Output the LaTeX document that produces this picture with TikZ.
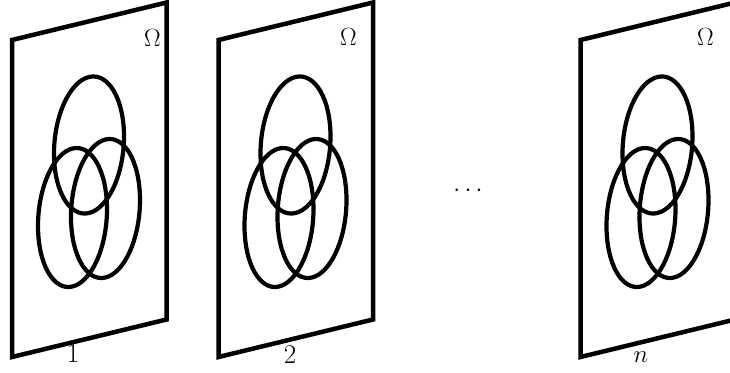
\documentclass[tikz,border=0pt]{standalone}
\begin{document}
\begin{tikzpicture}[x=1pt,y=-1pt,
  panel/.style={line width=4.5pt, line join=miter},
  venn/.style={line width=4.2pt},
  lbl/.style={anchor=base, inner sep=0pt, font=\fontsize{27}{32}\selectfont}]
\useasboundingbox (0,0) rectangle (730,372);
\clip (0,0) rectangle (730,372);
\foreach \x/\i/\ox/\oy/\lx/\ly/\lab in {12/1/152.5/46/73/362/1, 218.5/2/348.5/45/290/363/2, 580.5/3/705.5/45/641/362/$n$} {
  \draw[panel] (\x,40) -- (\x+154.5,2.5) -- (\x+154.5,319.5) -- (\x,357) -- cycle;
  \draw[venn, shift={(\x+77,145)}, yslant=0.243] (0,0) ellipse (35 and 68);
  \draw[venn, shift={(\x+60.5,217.5)}, yslant=0.243] (0,0) ellipse (34.5 and 69);
  \draw[venn, shift={(\x+93.5,208.5)}, yslant=0.243] (0,0) ellipse (34.5 and 69);
  \node[lbl] (omega\i) at (\ox,\oy) {$\Omega$};
  \node[lbl] (label\i) at (\lx,\ly) {\lab};
}
\node[lbl] (dots) at (468,196.5) {$\cdots$};
\end{tikzpicture}
\end{document}
